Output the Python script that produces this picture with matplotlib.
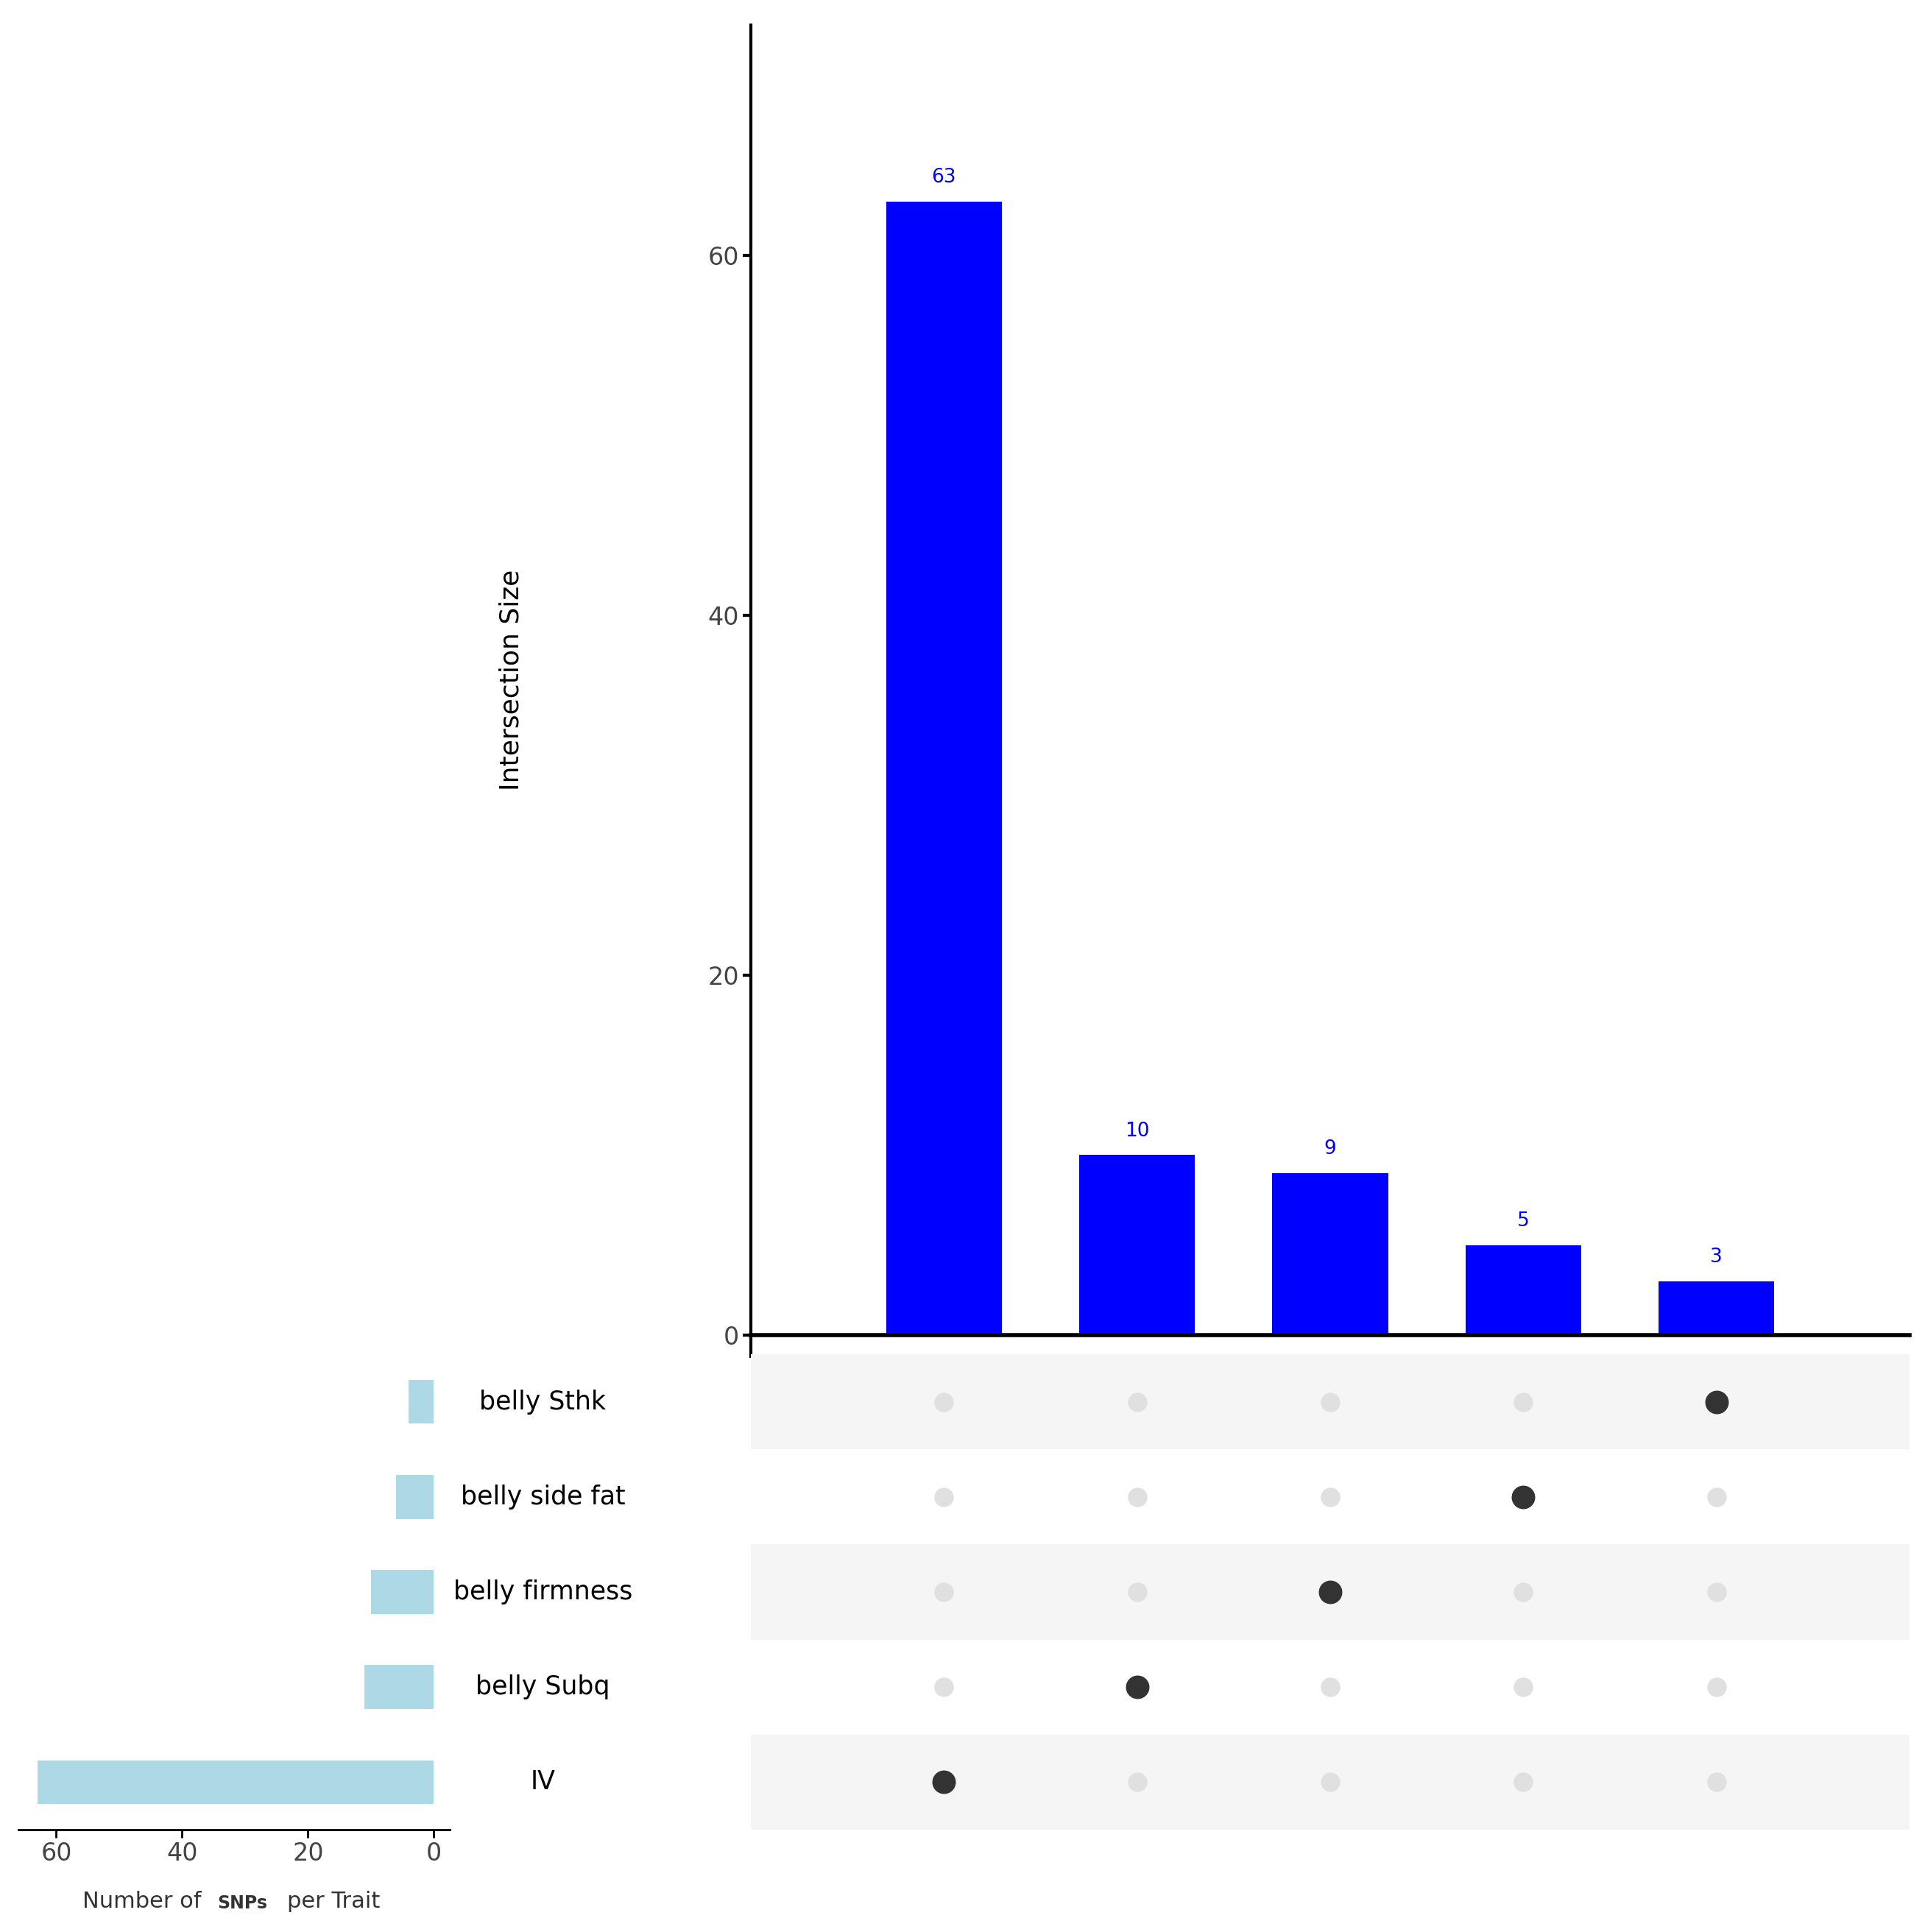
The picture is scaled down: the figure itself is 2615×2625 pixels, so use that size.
import matplotlib
matplotlib.use("Agg")
import matplotlib.pyplot as plt

# data
sets = ["belly Sthk", "belly side fat", "belly firmness", "belly Subq", "IV"]  # top to bottom
set_sizes = [4, 6, 10, 11, 63]
inter_sizes = [63, 10, 9, 5, 3]
inter_members = ["IV", "belly Subq", "belly firmness", "belly side fat", "belly Sthk"]

fig = plt.figure(figsize=(26.15, 26.25), dpi=100)

# intersection bars
ax = fig.add_axes([0.39, 0.309, 0.602, 0.678])
xs = list(range(len(inter_sizes)))
ax.bar(xs, inter_sizes, width=0.6, color="#0000ff")
for x, v in zip(xs, inter_sizes):
    ax.text(x, v + 0.8, str(v), ha="center", va="bottom", color="#0000ff", fontsize=19)
ax.set_xlim(-1, 5)
ax.set_ylim(0, 72.8)
ax.set_xticks([])
ax.set_yticks([0, 20, 40, 60])
ax.tick_params(axis="y", labelsize=24, labelcolor="#444444", width=3, length=8)
for s in ["top", "right"]:
    ax.spines[s].set_visible(False)
ax.spines["left"].set_linewidth(3)
ax.spines["bottom"].set_linewidth(4)
ax.spines["left"].set_bounds(-1.2, 72.8)
ax.spines["left"].set_clip_on(False)
ax.set_ylabel("Intersection Size", fontsize=26, labelpad=180)

# matrix
mx = fig.add_axes([0.39, 0.053, 0.602, 0.246])
n = len(sets)
for i in range(n):
    yrow = n - 1 - i
    if i % 2 == 0:
        mx.axhspan(yrow - 0.5, yrow + 0.5, color="#f5f5f5", lw=0)
    for x, m in zip(xs, inter_members):
        if m == sets[i]:
            mx.plot(x, yrow, "o", color="#333333", ms=22)
        else:
            mx.plot(x, yrow, "o", color="#e0e0e0", ms=18)
mx.set_xlim(-1, 5)
mx.set_ylim(-0.5, n - 0.5)
mx.axis("off")

# set size bars
sx = fig.add_axes([0.0096, 0.053, 0.224, 0.246])
ys = [n - 1 - i for i in range(n)]
sx.barh(ys, set_sizes, height=0.46, color="#add8e6")
sx.set_xlim(66, -2.5)
sx.set_ylim(-0.5, n - 0.5)
sx.set_yticks([])
sx.set_xticks([60, 40, 20, 0])
sx.tick_params(axis="x", labelsize=24, labelcolor="#444444", width=2, length=8)
for s in ["top", "right", "left"]:
    sx.spines[s].set_visible(False)
sx.spines["bottom"].set_linewidth(2)

for i, name in enumerate(sets):
    yf = 0.053 + 0.246 * (ys[i] + 0.5) / n
    fig.text(0.282, yf, name, ha="center", va="center", fontsize=25)

fig.text(0.043, 0.016, "Number of", fontsize=22, color="#333333", va="center")
fig.text(0.113, 0.015, "SNPs", fontsize=17, fontweight="bold", color="#333333", va="center")
fig.text(0.149, 0.016, "per Trait", fontsize=22, color="#333333", va="center")

fig.savefig("out.png")
